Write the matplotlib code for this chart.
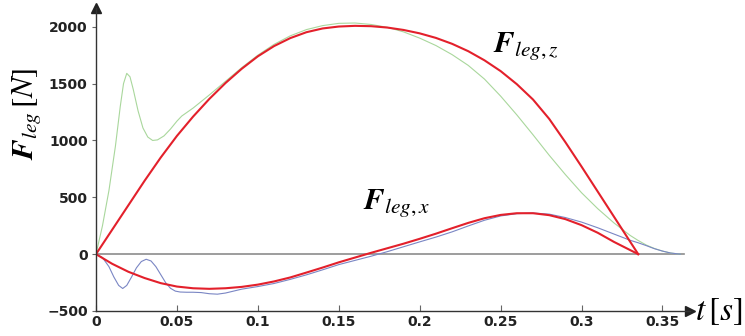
import matplotlib.pyplot as plt
import numpy as np

plt.rcParams['mathtext.fontset'] = 'stix'

# simulated (red) forces
t_sim = [0, 0.01, 0.02, 0.03, 0.04, 0.05, 0.06, 0.07, 0.08, 0.09, 0.10, 0.11, 0.12,
         0.13, 0.14, 0.15, 0.16, 0.17, 0.18, 0.19, 0.20, 0.21, 0.22, 0.23, 0.24,
         0.25, 0.26, 0.27, 0.28, 0.29, 0.30, 0.31, 0.32, 0.335]
fz_sim = [0, 215, 430, 645, 850, 1040, 1210, 1365, 1505, 1630, 1740, 1830, 1900,
          1952, 1985, 2002, 2008, 2005, 1993, 1972, 1942, 1902, 1850, 1785, 1705,
          1610, 1495, 1360, 1190, 985, 770, 550, 330, 0]
fx_sim = [0, -85, -155, -210, -255, -285, -300, -305, -300, -288, -268, -240, -205,
          -162, -118, -72, -30, 12, 52, 92, 135, 180, 228, 275, 316,
          345, 360, 360, 343, 308, 255, 188, 108, 0]

# measured (green) vertical force
t_mz = [0, 0.004, 0.008, 0.012, 0.015, 0.017, 0.019, 0.021, 0.023, 0.026, 0.029,
        0.032, 0.035, 0.038, 0.042, 0.046, 0.05, 0.053, 0.057, 0.06, 0.07, 0.08,
        0.09, 0.10, 0.11, 0.12, 0.13, 0.14, 0.15, 0.16, 0.17, 0.18, 0.19, 0.20,
        0.21, 0.22, 0.23, 0.24, 0.25, 0.26, 0.27, 0.28, 0.29, 0.30, 0.31, 0.32,
        0.33, 0.335, 0.34, 0.345, 0.35, 0.355, 0.361]
fz_mz = [0, 250, 560, 950, 1300, 1500, 1590, 1560, 1450, 1260, 1110,
         1030, 1000, 1005, 1040, 1100, 1170, 1215, 1255, 1285, 1400, 1520,
         1640, 1750, 1845, 1920, 1975, 2010, 2030, 2033, 2020, 1995, 1955, 1900,
         1835, 1755, 1660, 1540, 1390, 1225, 1050, 870, 700, 540, 400, 275,
         165, 120, 80, 50, 27, 10, 0]

# measured (blue) horizontal force
t_mx = [0, 0.004, 0.008, 0.011, 0.014, 0.0165, 0.019, 0.022, 0.025, 0.028, 0.031,
        0.034, 0.037, 0.040, 0.043, 0.046, 0.049, 0.052, 0.056, 0.06, 0.065, 0.07,
        0.075, 0.08, 0.085, 0.09, 0.10, 0.11, 0.12, 0.13, 0.14, 0.15, 0.16, 0.17,
        0.18, 0.19, 0.20, 0.21, 0.22, 0.23, 0.24, 0.25, 0.26, 0.27, 0.28, 0.29,
        0.30, 0.31, 0.32, 0.33, 0.335, 0.34, 0.345, 0.35, 0.355, 0.361]
fx_mx = [0, -30, -110, -200, -275, -302, -275, -200, -120, -65, -45,
         -60, -110, -180, -250, -300, -325, -333, -335, -335, -338, -348,
         -352, -342, -325, -308, -285, -258, -222, -182, -138, -92, -55, -18,
         22, 65, 108, 150, 196, 248, 298, 336, 356, 362, 352, 322,
         282, 232, 177, 122, 100, 75, 48, 27, 10, 0]

t_base = [0, 0.283, 0.363]
f_base = [0, 0, 0]

fig = plt.figure(figsize=(7.45, 3.36), dpi=100)
ax = fig.add_axes([96 / 745, 25 / 336, 594 / 745, 303 / 336])

ax.plot(t_base, f_base, color='#8c8c8c', lw=1.2)
ax.plot(t_mz, fz_mz, color='#a9d79c', lw=0.8)
ax.plot(t_mx, fx_mx, color='#7a86c4', lw=0.8)
ax.plot(t_sim, fz_sim, color='#e3202b', lw=1.5, solid_joinstyle='round')
ax.plot(t_sim, fx_sim, color='#e3202b', lw=1.5, solid_joinstyle='round')

ax.set_xlim(0, 0.367)
ax.set_ylim(-500, 2165)
ax.spines['top'].set_visible(False)
ax.spines['right'].set_visible(False)
for s in ['left', 'bottom']:
    ax.spines[s].set_color('#333333')
    ax.spines[s].set_linewidth(1.0)
ax.plot(1, 0, '>', color='#222222', ms=7, transform=ax.transAxes, clip_on=False)
ax.plot(0, 1, '^', color='#222222', ms=7, transform=ax.transAxes, clip_on=False)

ax.set_xticks([0, 0.05, 0.1, 0.15, 0.2, 0.25, 0.3, 0.35])
ax.set_xticklabels(['0', '0.05', '0.1', '0.15', '0.2', '0.25', '0.3', '0.35'])
ax.set_yticks([-500, 0, 500, 1000, 1500, 2000])
ax.tick_params(direction='in', length=4, color='#666666', labelsize=10, pad=3)
ax.tick_params(axis='y', direction='out', length=3)
for lab in ax.get_xticklabels() + ax.get_yticklabels():
    lab.set_fontweight('bold')
    lab.set_color('#222222')

fig.text(0.035, 0.66, r'$\mathbfit{F}_{leg}\,[N]$', rotation=90, fontsize=22,
         ha='center', va='center')
fig.text(0.965, 0.075, r'$t\,[s]$', fontsize=24, ha='center', va='center')
ax.text(0.245, 1780, r'$\mathbfit{F}_{leg,z}$', fontsize=22)
ax.text(0.165, 400, r'$\mathbfit{F}_{leg,x}$', fontsize=22)

fig.savefig('out.png', dpi=100)
